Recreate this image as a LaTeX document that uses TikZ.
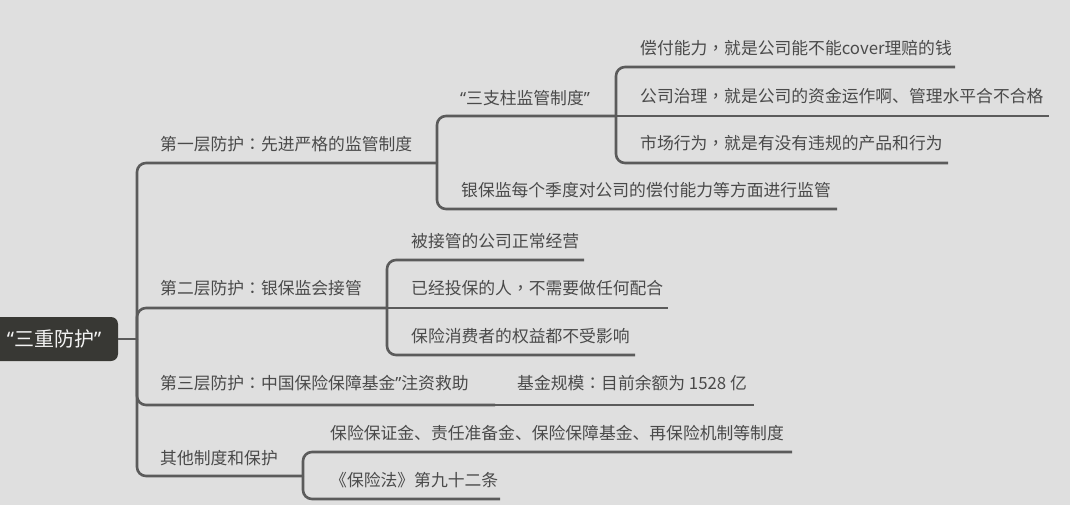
\documentclass[tikz,border=0pt]{standalone}
\usepackage{fontspec}
\newfontfamily\cjk{Noto Sans CJK SC}
\newfontfamily\cjktc{Noto Sans CJK TC}
\newfontfamily\lat{Noto Sans}
\definecolor{bgc}{HTML}{DFDFDF}
\definecolor{linec}{HTML}{5B5B5B}
\definecolor{txtc}{HTML}{4A4A4A}
\definecolor{rootc}{HTML}{383834}
\definecolor{roottxt}{HTML}{F2F2F2}
\newcommand{\myLq}{{\lat “}}
\newcommand{\myRq}{{\lat ”}}
\newcommand{\myColon}{{\cjktc ：}}
\newcommand{\myComma}{{\cjktc ，}}
\begin{document}
\begin{tikzpicture}[x=1pt,y=-1pt,
  txt/.style={anchor=west,text=txtc,font=\cjk\fontsize{16.8}{20}\selectfont,inner sep=0pt},
  rootbox/.style={fill=rootc,text=roottxt,rounded corners=7pt,minimum width=128pt,minimum height=44pt,inner sep=0pt,font=\cjk\fontsize{20}{24}\selectfont},
  conn/.style={draw=linec,line width=2.6pt,rounded corners=9pt}
]
\fill[bgc] (0,0) rectangle (1070,505);
\useasboundingbox (0,0) rectangle (1070,505);

% root
\node[rootbox] (root) at (54,339) {\myLq 三重防护\myRq};

% junctions and line ends
\coordinate (j0) at (137,339);
\coordinate (e1) at (437,163);
\coordinate (e11) at (616,116);
\coordinate (e111) at (955,67);
\coordinate (e112) at (1049,116);
\coordinate (e113) at (948,163);
\coordinate (e12) at (837,209);
\coordinate (e2) at (387,308);
\coordinate (e21) at (584,260);
\coordinate (e22) at (668,308);
\coordinate (e23) at (635,355);
\coordinate (e3) at (495,405);
\coordinate (e31) at (754,405);
\coordinate (e4) at (303,476);
\coordinate (e41) at (792,452);
\coordinate (e42) at (500,499);

% connectors
\draw[conn] (root.east) -- (j0);
\draw[conn] (j0) |- (e1);
\draw[conn] (j0) |- (e2);
\draw[conn] (j0) |- (e3);
\draw[conn] (j0) |- (e4);
\draw[conn] (e1) |- (e11);
\draw[conn] (e1) |- (e12);
\draw[conn] (e11) |- (e111);
\draw[conn] (e11) -- (e112);
\draw[conn] (e11) |- (e113);
\draw[conn] (e2) |- (e21);
\draw[conn] (e2) -- (e22);
\draw[conn] (e2) |- (e23);
\draw[conn] (e3) -- (e31);
\draw[conn] (e4) |- (e41);
\draw[conn] (e4) |- (e42);

% texts
\node[txt] (t1) at (160,144) {第一层防护\myColon 先进严格的监管制度};
\node[txt] (t11) at (460,98) {\myLq 三支柱监管制度\myRq};
\node[txt] (t111) at (640,48) {偿付能力\myComma 就是公司能不能cover理赔的钱};
\node[txt] (t112) at (640,96) {公司治理\myComma 就是公司的资金运作啊、管理水平合不合格};
\node[txt] (t113) at (640,143) {市场行为\myComma 就是有没有违规的产品和行为};
\node[txt] (t12) at (461,190) {银保监每个季度对公司的偿付能力等方面进行监管};
\node[txt] (t2) at (160,288) {第二层防护\myColon 银保监会接管};
\node[txt] (t21) at (411,241) {被接管的公司正常经营};
\node[txt] (t22) at (411,288) {已经投保的人\myComma 不需要做任何配合};
\node[txt] (t23) at (411,336) {保险消费者的权益都不受影响};
\node[txt] (t3) at (160,383) {第三层防护\myColon 中国保险保障基金\myRq 注资救助};
\node[txt] (t31) at (517,383) {基金规模\myColon 目前余额为 1528 亿};
\node[txt] (t4) at (160,458) {其他制度和保护};
\node[txt] (t41) at (330,433) {保险保证金、责任准备金、保险保障基金、再保险机制等制度};
\node[txt] (t42) at (330,480) {《保险法》第九十二条};
\end{tikzpicture}
\end{document}
